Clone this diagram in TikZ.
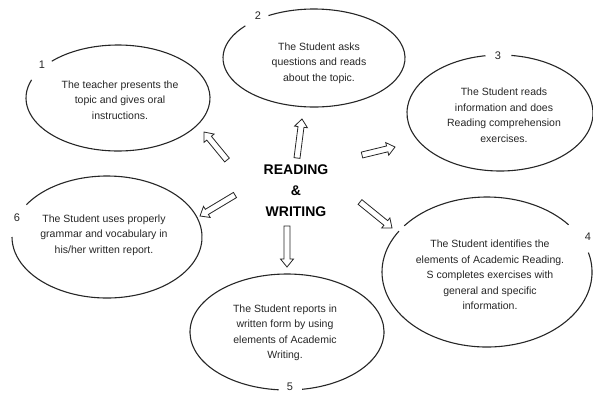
\documentclass[tikz,border=0pt]{standalone}
\usepackage{fontspec}
\setmainfont{Liberation Sans}
\usetikzlibrary{calc}
\newcommand\blockarr[2]{%
  \coordinate (#1h) at ($(#2)!8pt!(#1)$);
  \draw[arrowline] ($(#1)!3pt!90:(#2)$) -- ($(#1h)!3pt!90:(#2)$) -- ($(#1h)!6.5pt!90:(#2)$)
    -- (#2) -- ($(#1h)!6.5pt!-90:(#2)$) -- ($(#1h)!3pt!-90:(#2)$) -- ($(#1)!3pt!-90:(#2)$) -- cycle;}
\begin{document}
\begin{tikzpicture}[x=1pt,y=-1pt,
  ell/.style={line width=1.1pt, draw=black!85},
  txt/.style={align=center, font=\fontsize{10.5}{15.5}\selectfont, text=black!85, inner sep=0pt},
  num/.style={font=\fontsize{11}{13}\selectfont, text=black!85, inner sep=0pt},
  arrowline/.style={draw=black!85, fill=white, line width=0.8pt, line join=miter},
  central/.style={align=center, font=\bfseries\fontsize{14}{21}\selectfont, inner sep=0pt}]
\useasboundingbox (0,0) rectangle (593,392);

% ellipse centres
\coordinate (c1) at (118,98);
\coordinate (c2) at (314,58);
\coordinate (c3) at (500,113);
\coordinate (c4) at (487,272);
\coordinate (c5) at (287,332);
\coordinate (c6) at (107,237);

% ellipses (with gaps for the numbers)
\draw[ell] ([shift={(224:92 and 53)}]c1) arc[start angle=224, end angle=560, x radius=92, y radius=53];
\draw[ell] ([shift={(240:91 and 49)}]c2) arc[start angle=240, end angle=581, x radius=91, y radius=49];
\draw[ell] ([shift={(277:93 and 58)}]c3) arc[start angle=277, end angle=621, x radius=93, y radius=58];
\draw[ell] ([shift={(345:105 and 75)}]c4) arc[start angle=345, end angle=573, x radius=105, y radius=75];
\draw[ell] ([shift={(218:105 and 75)}]c4) arc[start angle=218, end angle=321, x radius=105, y radius=75];
\draw[ell] ([shift={(95:97 and 58)}]c5) arc[start angle=95, end angle=441, x radius=97, y radius=58];
\draw[ell] ([shift={(212:95 and 61)}]c6) arc[start angle=212, end angle=540, x radius=95, y radius=61];

% texts
\node[txt] (t1) at (120,100) {The teacher presents the\\topic and gives oral\\instructions.};
\node[txt] (t2) at (319,63) {The Student asks\\questions and reads\\about the topic.};
\node[txt] (t3) at (504,115) {The Student reads\\information and does\\Reading comprehension\\exercises.};
\node[txt] (t4) at (490,275) {The Student identifies the\\elements of Academic Reading.\\S completes exercises with\\general and specific\\information.};
\node[txt] (t5) at (285,333) {The Student reports in\\written form by using\\elements of Academic\\Writing.};
\node[txt] (t6) at (104,235) {The Student uses properly\\grammar and vocabulary in\\his/her written report.};

% numbers
\node[num] (n1) at (42,65) {1};
\node[num] (n2) at (258,16) {2};
\node[num] (n3) at (498,56) {3};
\node[num] (n4) at (588,237) {4};
\node[num] (n5) at (290,387) {5};
\node[num] (n6) at (17,218) {6};

% centre
\node[central] (rw) at (296,191) {READING\\\&\\WRITING};

% arrow end points
\coordinate (s1) at (227,160); \coordinate (e1) at (204,132);
\coordinate (s2) at (297,158); \coordinate (e2) at (302,119);
\coordinate (s3) at (362,155); \coordinate (e3) at (395,147);
\coordinate (s4) at (360,202); \coordinate (e4) at (392,228);
\coordinate (s5) at (287,226); \coordinate (e5) at (287,267);
\coordinate (s6) at (235,195); \coordinate (e6) at (200,216);

\blockarr{s1}{e1}
\blockarr{s2}{e2}
\blockarr{s3}{e3}
\blockarr{s4}{e4}
\blockarr{s5}{e5}
\blockarr{s6}{e6}
\end{tikzpicture}
\end{document}
